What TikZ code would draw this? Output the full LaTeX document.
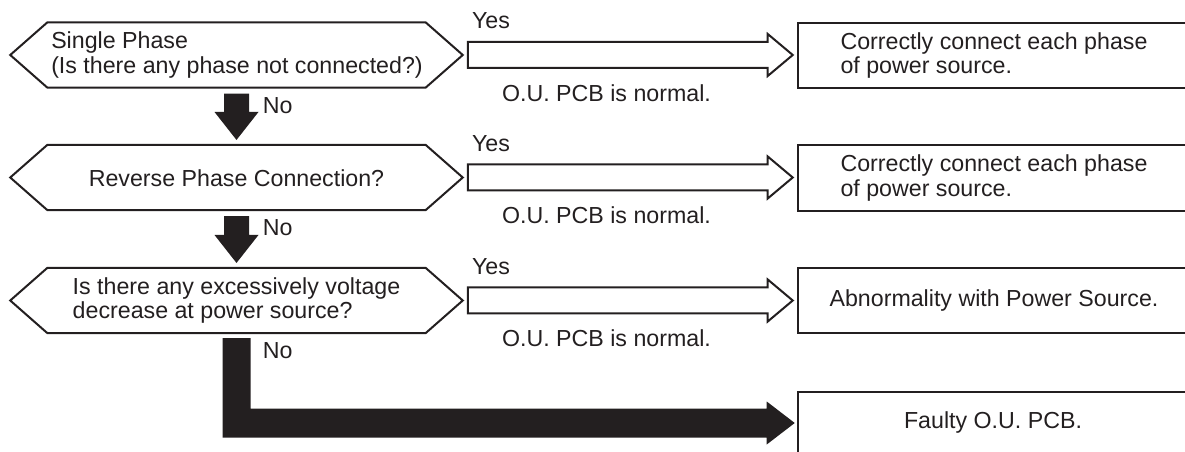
\documentclass[tikz,border=0pt]{standalone}
\usepackage{fontspec}
\setmainfont{Liberation Sans}
\usetikzlibrary{calc}
\definecolor{ink}{HTML}{231F20}
\tikzset{
  txt/.style={inner sep=0pt, text=ink, font=\fontsize{17.4}{18.5}\selectfont},
  hexbox/.style={inner sep=0pt, minimum width=283.5pt, minimum height=48.4pt},
  resbox/.style={inner sep=0pt, minimum width=294pt, minimum height=48.75pt, text=ink, align=left, font=\fontsize{17.4}{18.5}\selectfont},
  outline/.style={draw=ink, line width=1.5pt, line join=miter, fill=white},
  edge/.style={draw=ink, line width=1.5pt, line join=miter},
}
\begin{document}
\begin{tikzpicture}[x=0.75pt, y=-0.75pt]
\useasboundingbox (0,0) rectangle (1185,452);
\clip (0,0) rectangle (1185,452);

% decision hexagons
\foreach \n/\y in {1/55, 2/177.5, 3/300.5}{
  \node[hexbox] (h\n) at (236.5,\y) {};
  \draw[outline] (h\n.north west) -- (h\n.north east) -- ($(h\n.east)+(37,0)$)
     -- (h\n.south east) -- (h\n.south west) -- ($(h\n.west)+(-37,0)$) -- cycle;
  \coordinate (ht\n) at ($(h\n.east)+(37,0)$);
}
\node[txt, anchor=west, align=left] (t1) at (51,55) {Single Phase\\(Is there any phase not connected?)};
\node[txt] (t2) at (236.5,178) {Reverse Phase Connection?};
\node[txt, align=left] (t3) at (236.5,300.5) {Is there any excessively voltage\\decrease at power source?};

% result boxes (right side runs off the page)
\node[resbox] (b1) at (994,55.5) {Correctly connect each phase\\of power source.};
\node[resbox] (b2) at (994,178) {Correctly connect each phase\\of power source.};
\node[resbox] (b3) at (994,300.5) {Abnormality with Power Source.};
\node[resbox, minimum height=52.5pt] (b4) at (994,427) {};
\node[txt] (t4) at (993,423) {Faulty O.U. PCB.};
\foreach \n in {1,2,3,4}{
  \draw[edge] ($(b\n.north east)+(20,0)$) -- (b\n.north west) -- (b\n.south west) -- ($(b\n.south east)+(20,0)$);
}

% hollow "Yes" arrows
\foreach \n in {1,2,3}{
  \coordinate (s\n) at ($(ht\n)+(5,0)$);
  \coordinate (e\n) at ($(b\n.west)+(-5,0)$);
  \draw[outline] ($(s\n)+(0,-13)$) -- ($(e\n |- s\n)+(-25,-13)$) -- ($(e\n |- s\n)+(-25,-21)$)
     -- (e\n |- s\n) -- ($(e\n |- s\n)+(-25,21)$) -- ($(e\n |- s\n)+(-25,13)$) -- ($(s\n)+(0,13)$) -- cycle;
  \node[txt, anchor=west] (y\n) at ($(s\n)+(4,-34)$) {Yes};
  \node[txt, anchor=west] (n\n) at ($(s\n)+(34,38)$) {O.U. PCB is normal.};
}

% solid "No" arrows
\foreach \a/\b in {1/2, 2/3}{
  \coordinate (d\a) at ($(h\a.south)+(0,6)$);
  \coordinate (f\a) at ($(h\b.north)+(0,-5)$);
  \fill[ink] ($(d\a)+(-12.5,0)$) -- ($(d\a)+(12.5,0)$) -- ($(f\a)+(12.5,-28)$) -- ($(f\a)+(22,-28)$)
     -- (f\a) -- ($(f\a)+(-22,-28)$) -- ($(f\a)+(-12.5,-28)$) -- cycle;
  \node[txt, anchor=west] (no\a) at ($(d\a)+(26,12)$) {No};
}

% L-shaped arrow to faulty PCB
\coordinate (d3) at ($(h3.south)+(0,5)$);
\coordinate (f3) at ($(b4.west |- t4)+(-3,0)$);
\fill[ink] ($(d3)+(-14,0)$) -- ($(d3)+(14,0)$) -- ($(d3 |- f3)+(14,-14.5)$) -- ($(f3)+(-28,-14.5)$)
   -- ($(f3)+(-28,-21.5)$) -- (f3) -- ($(f3)+(-28,21.5)$) -- ($(f3)+(-28,14.5)$)
   -- ($(d3 |- f3)+(-14,14.5)$) -- cycle;
\node[txt, anchor=west] (no3) at ($(d3)+(26,13)$) {No};
\end{tikzpicture}
\end{document}
